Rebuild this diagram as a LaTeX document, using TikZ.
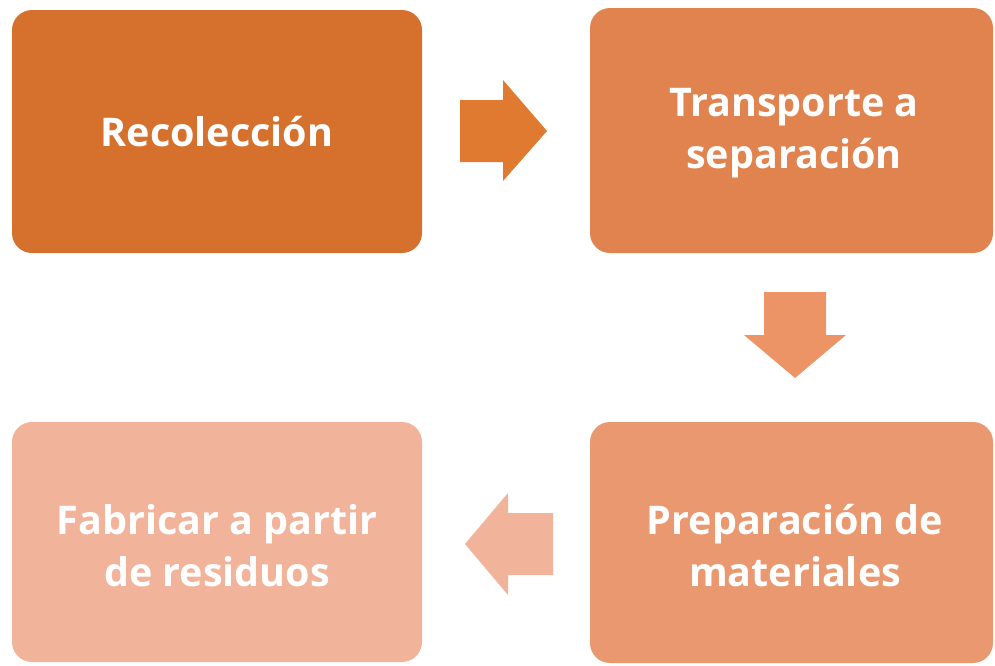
\documentclass[tikz,border=0pt]{standalone}
\usepackage{fontspec}
\setmainfont{Open Sans}
\definecolor{cA}{HTML}{D5702D}
\definecolor{cB}{HTML}{E1834F}
\definecolor{cC}{HTML}{EA9870}
\definecolor{cD}{HTML}{F2B39B}
\definecolor{aA}{HTML}{E07A31}
\definecolor{aB}{HTML}{EC9465}
\definecolor{aC}{HTML}{F2B39B}
\tikzset{
  box/.style={draw=none, rounded corners=20pt, minimum width=410pt, minimum height=243pt,
    inner sep=0pt, text=white, align=center, font=\fontsize{39.5}{52}\selectfont\bfseries},
  lbl/.style={text=white, align=center, inner sep=0pt, font=\fontsize{39.5}{52}\selectfont\bfseries},
}
\begin{document}
\begin{tikzpicture}[x=1pt,y=-1pt]
\useasboundingbox (0,0) rectangle (995,665);
\node[box, fill=cA, minimum width=410pt] (b1) at (217,131.5) {};
\node[box, fill=cB, minimum width=403pt, minimum height=245pt] (b2) at (791.5,130.5) {};
\node[box, fill=cC, minimum width=403pt, minimum height=241pt] (b3) at (791.5,542.5) {};
\node[box, fill=cD, minimum width=410pt, minimum height=240pt] (b4) at (217,542) {};
\node[lbl] (t1) at (217,132) {Recolección};
\node[lbl] (t2) at (794,133) {Transporte a\\separación};
\node[lbl] (t3) at (795,546) {Preparación de\\materiales};
\node[lbl] (t4) at (217,546) {Fabricar a partir\\de residuos};
% block arrows
\fill[aA] (460,100) -- (503,100) -- (503,80) -- (547,131) -- (503,181) -- (503,162) -- (460,162) -- cycle;
\fill[aB] (764,292) -- (826,292) -- (826,335) -- (846,335) -- (795,378) -- (744,335) -- (764,335) -- cycle;
\fill[aC] (553,513) -- (508,513) -- (508,493) -- (465,544) -- (508,595) -- (508,575) -- (553,575) -- cycle;
\end{tikzpicture}
\end{document}
